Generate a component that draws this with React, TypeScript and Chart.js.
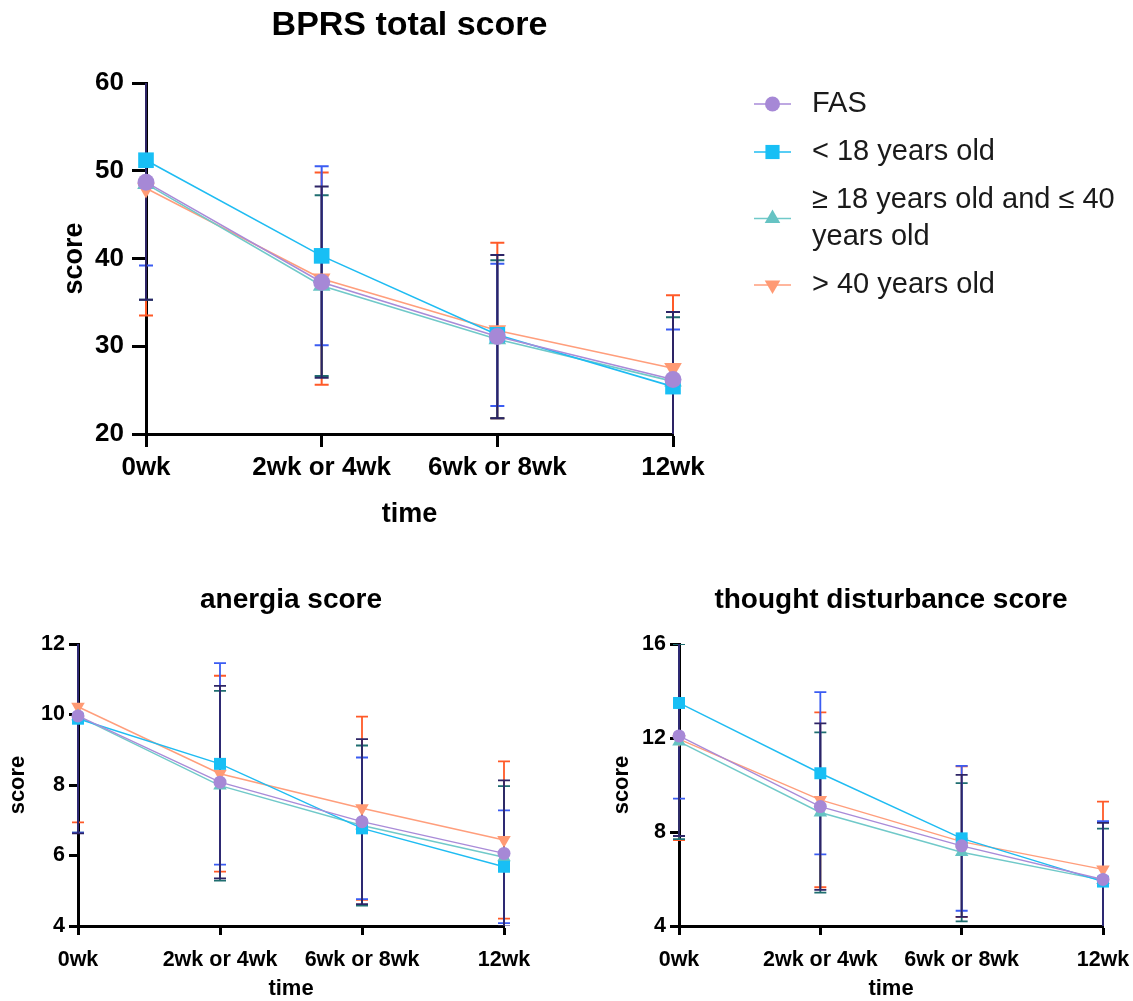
import React, { useEffect, useRef } from 'react';
import { Chart, registerables } from 'chart.js';

Chart.register(...registerables);

const FONT = "'Liberation Sans', Arial, Helvetica, sans-serif";

// ---------- data ----------
const timeLabels = ['0wk', '2wk or 4wk', '6wk or 8wk', '12wk'];
const seriesNames = ['FAS', '< 18 years old', '≥ 18 years old and ≤ 40 years old', '> 40 years old'];
const legendLines = [['FAS'], ['< 18 years old'], ['≥ 18 years old and ≤ 40', 'years old'], ['> 40 years old']];

// BPRS total score (mean, SD)
const bprsFAS = [48.7, 37.3, 31.1, 26.2];
const bprsFASsd = [13.4, 10.9, 9.3, 7.7];
const bprsU18 = [51.2, 40.3, 31.3, 25.4];
const bprsU18sd = [12.0, 10.2, 8.1, 6.5];
const bprsMid = [48.5, 36.9, 30.8, 26.0];
const bprsMidsd = [13.2, 10.3, 9.0, 7.3];
const bprsO40 = [48.0, 37.7, 31.8, 27.5];
const bprsO40sd = [14.5, 12.1, 10.0, 8.3];

// anergia score
const anFAS = [9.96, 8.08, 6.96, 6.06];
const anFASsd = [3.33, 2.73, 2.34, 2.07];
const anU18 = [9.88, 8.6, 6.77, 5.68];
const anU18sd = [3.23, 2.86, 2.01, 1.6];
const anMid = [9.95, 7.98, 6.85, 5.95];
const anMidsd = [3.3, 2.69, 2.27, 2.02];
const anO40 = [10.22, 8.32, 7.34, 6.44];
const anO40sd = [3.28, 2.78, 2.6, 2.23];

// thought disturbance score
const tdFAS = [12.09, 9.08, 7.41, 5.98];
const tdFASsd = [4.26, 3.54, 3.02, 2.41];
const tdU18 = [13.49, 10.5, 7.73, 5.89];
const tdU18sd = [4.07, 3.45, 3.08, 2.57];
const tdMid = [11.85, 8.83, 7.14, 5.95];
const tdMidsd = [4.15, 3.41, 2.94, 2.19];
const tdO40 = [11.95, 9.37, 7.59, 6.41];
const tdO40sd = [4.29, 3.72, 3.2, 2.88];

// axis ticks [min, max, step]
const bprsRange = [20, 60, 10];
const anRange = [4, 12, 2];
const tdRange = [4, 16, 4];

// ---------- styles ----------
const lineColors = ['#a98bd8', '#1fbcf2', '#70c9c9', '#ff9e7c'];
const markerColors = ['#a688d6', '#18bff5', '#66c3c3', '#ff9a74'];
const errorColors = ['#2d2466', '#3b5cf2', '#1f6e70', '#ff5a28'];
const pointStyles = ['circle', 'rect', 'triangle', 'triangle'];
const pointRotations = [0, 0, 0, 180];

function drawMarker(ctx, style, rot, x, y, r) {
  ctx.beginPath();
  if (style === 'circle') {
    ctx.arc(x, y, r, 0, Math.PI * 2);
  } else if (style === 'rect') {
    const s = r * Math.SQRT1_2;
    ctx.rect(x - s, y - s, 2 * s, 2 * s);
  } else {
    const dir = rot === 180 ? -1 : 1;
    ctx.moveTo(x, y - dir * r);
    ctx.lineTo(x - r * 0.866, y + dir * r * 0.5);
    ctx.lineTo(x + r * 0.866, y + dir * r * 0.5);
    ctx.closePath();
  }
  ctx.fill();
}

const errorBarPlugin = {
  id: 'errorBars',
  beforeDatasetsDraw(chart, _args, opts) {
    const ctx = chart.ctx;
    const { left, right, top, bottom } = chart.chartArea;
    const yScale = chart.scales.y;
    ctx.save();
    ctx.beginPath();
    ctx.rect(left - 30, top, right - left + 60, bottom - top);
    ctx.clip();
    const ds = chart.data.datasets;
    for (let i = ds.length - 1; i >= 0; i--) {
      const d = ds[i];
      const meta = chart.getDatasetMeta(i);
      ctx.strokeStyle = d.errorColor;
      ctx.lineWidth = opts.lineWidth;
      d.data.forEach((v, j) => {
        const x = meta.data[j].x;
        const yHi = yScale.getPixelForValue(v + d.sd[j]);
        const yLo = yScale.getPixelForValue(v - d.sd[j]);
        ctx.beginPath();
        ctx.moveTo(x, yHi);
        ctx.lineTo(x, yLo);
        ctx.moveTo(x - opts.cap, yHi);
        ctx.lineTo(x + opts.cap, yHi);
        ctx.moveTo(x - opts.cap, yLo);
        ctx.lineTo(x + opts.cap, yLo);
        ctx.stroke();
      });
    }
    ctx.restore();
  },
};

const textPlugin = {
  id: 'texts',
  afterDraw(chart, _args, opts) {
    const ctx = chart.ctx;
    const ca = chart.chartArea;
    const cx = (ca.left + ca.right) / 2;
    ctx.save();
    ctx.fillStyle = '#000';
    ctx.textAlign = 'center';
    ctx.textBaseline = 'middle';
    ctx.font = `bold ${opts.titleSize}px ${FONT}`;
    ctx.fillText(opts.title, cx, opts.titleY);
    ctx.font = `bold ${opts.axisSize}px ${FONT}`;
    ctx.fillText(opts.xTitle, cx, opts.xTitleY);
    ctx.translate(opts.yTitleX, (ca.top + ca.bottom) / 2);
    ctx.rotate(-Math.PI / 2);
    ctx.fillText(opts.yTitle, 0, 0);
    ctx.restore();

    if (opts.legend) {
      const L = opts.legend;
      ctx.save();
      let y = L.y0;
      legendLines.forEach((lines, i) => {
        const rowTop = y;
        const rowBottom = y + (lines.length - 1) * L.lineGap;
        const my = (rowTop + rowBottom) / 2;
        ctx.strokeStyle = lineColors[i];
        ctx.lineWidth = 1.5;
        ctx.beginPath();
        ctx.moveTo(L.x0, my);
        ctx.lineTo(L.x1, my);
        ctx.stroke();
        ctx.fillStyle = markerColors[i];
        drawMarker(ctx, pointStyles[i], pointRotations[i], (L.x0 + L.x1) / 2, my, pointStyles[i] === 'circle' ? 7.5 : pointStyles[i] === 'rect' ? 10 : 9);
        ctx.fillStyle = '#1a1a1a';
        ctx.font = `${L.size}px ${FONT}`;
        ctx.textAlign = 'left';
        ctx.textBaseline = 'middle';
        lines.forEach((t, k) => ctx.fillText(t, L.textX, rowTop + k * L.lineGap));
        y = rowBottom + L.rowGap;
      });
      ctx.restore();
    }
  },
};

function makeConfig(p) {
  const datasets = p.means.map((m, i) => ({
    label: seriesNames[i],
    data: m,
    sd: p.sds[i],
    errorColor: errorColors[i],
    borderColor: lineColors[i],
    backgroundColor: markerColors[i],
    borderWidth: p.lineWidth,
    pointStyle: pointStyles[i],
    pointRotation: pointRotations[i],
    pointRadius: pointStyles[i] === 'circle' ? p.r : pointStyles[i] === 'rect' ? p.r * 1.3 : p.r * 1.2,
    pointBackgroundColor: markerColors[i],
    pointBorderColor: markerColors[i],
    pointBorderWidth: 0,
    tension: 0,
    clip: false,
  }));
  const tickFont = { family: FONT, size: p.tickSize, weight: 'bold' };
  return {
    type: 'line',
    data: { labels: timeLabels, datasets },
    options: {
      responsive: false,
      maintainAspectRatio: false,
      animation: false,
      devicePixelRatio: 1,
      layout: { padding: p.padding },
      plugins: {
        legend: { display: false },
        tooltip: { enabled: false },
        errorBars: { lineWidth: p.errWidth, cap: p.cap },
        texts: p.texts,
      },
      scales: {
        x: {
          type: 'category',
          offset: false,
          grid: { display: true, drawOnChartArea: false, drawTicks: true, tickLength: p.xTick, tickWidth: 3, tickColor: '#000' },
          border: { display: true, color: '#000', width: 3 },
          ticks: { font: tickFont, color: '#000', padding: p.xPad, maxRotation: 0, autoSkip: false },
          afterFit: (s) => {
            s.height = p.xHeight;
            s.paddingLeft = 0;
            s.paddingRight = 0;
          },
        },
        y: {
          type: 'linear',
          min: p.range[0],
          max: p.range[1],
          grid: { display: true, drawOnChartArea: false, drawTicks: true, tickLength: p.yTick, tickWidth: 3, tickColor: '#000' },
          border: { display: true, color: '#000', width: 3 },
          ticks: { font: tickFont, color: '#000', padding: p.yPad, stepSize: p.range[2] },
          afterFit: (s) => {
            s.width = p.yWidth;
            s.paddingTop = 0;
            s.paddingBottom = 0;
          },
        },
      },
    },
    plugins: [errorBarPlugin, textPlugin],
  };
}

function ChartCanvas({ config, left, top, width, height }) {
  const ref = useRef(null);
  useEffect(() => {
    const c = new Chart(ref.current, config);
    return () => c.destroy();
  }, []);
  return (
    <canvas
      ref={ref}
      width={width}
      height={height}
      style={{ position: 'absolute', left, top, width, height }}
    />
  );
}

const topConfig = makeConfig({
  means: [bprsFAS, bprsU18, bprsMid, bprsO40],
  sds: [bprsFASsd, bprsU18sd, bprsMidsd, bprsO40sd],
  range: bprsRange,
  padding: { left: 0, top: 83, right: 460, bottom: 0 },
  yWidth: 146,
  xHeight: 126,
  xTick: 13,
  yTick: 14,
  xPad: 5,
  yPad: 8,
  tickSize: 26,
  lineWidth: 1.6,
  r: 8.5,
  errWidth: 2,
  cap: 7,
  texts: {
    title: 'BPRS total score', titleSize: 34, titleY: 26,
    xTitle: 'time', xTitleY: 515, yTitle: 'score', yTitleX: 75, axisSize: 27,
    legend: { x0: 754, x1: 791, textX: 812, y0: 104, lineGap: 37, rowGap: 48, size: 29 },
  },
});

const leftConfig = makeConfig({
  means: [anFAS, anU18, anMid, anO40],
  sds: [anFASsd, anU18sd, anMidsd, anO40sd],
  range: anRange,
  padding: { left: 0, top: 84, right: 62, bottom: 0 },
  yWidth: 78,
  xHeight: 75,
  xTick: 9,
  yTick: 9,
  xPad: 12,
  yPad: 4,
  tickSize: 21.5,
  lineWidth: 1.4,
  r: 6.5,
  errWidth: 1.8,
  cap: 6,
  texts: {
    title: 'anergia score', titleSize: 28, titleY: 40,
    xTitle: 'time', xTitleY: 429, yTitle: 'score', yTitleX: 18, axisSize: 22,
  },
});

const rightConfig = makeConfig({
  means: [tdFAS, tdU18, tdMid, tdO40],
  sds: [tdFASsd, tdU18sd, tdMidsd, tdO40sd],
  range: tdRange,
  padding: { left: 0, top: 84, right: 30, bottom: 0 },
  yWidth: 113,
  xHeight: 75,
  xTick: 9,
  yTick: 9,
  xPad: 12,
  yPad: 4,
  tickSize: 21.5,
  lineWidth: 1.4,
  r: 6.5,
  errWidth: 1.8,
  cap: 6,
  texts: {
    title: 'thought disturbance score', titleSize: 28, titleY: 40,
    xTitle: 'time', xTitleY: 429, yTitle: 'score', yTitleX: 56, axisSize: 22,
  },
});

export default function App() {
  return (
    <div style={{ position: 'absolute', left: 0, top: 0, width: 1133, height: 1001, background: '#fff' }}>
      <ChartCanvas config={topConfig} left={0} top={0} width={1133} height={560} />
      <ChartCanvas config={leftConfig} left={0} top={560} width={566} height={441} />
      <ChartCanvas config={rightConfig} left={566} top={560} width={567} height={441} />
    </div>
  );
}
